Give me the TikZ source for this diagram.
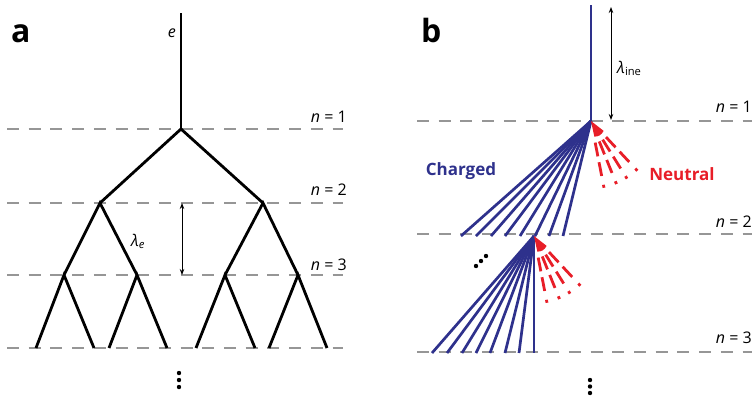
\documentclass[tikz,border=0pt]{standalone}
\usepackage{fontspec}
\setmainfont{Open Sans}
\usetikzlibrary{arrows.meta}
\definecolor{chblue}{RGB}{46,49,140}
\definecolor{ntred}{RGB}{232,30,40}
\definecolor{lvgray}{RGB}{150,150,150}
\tikzset{
  levelline/.style={draw=lvgray, line width=1.5pt, dash pattern=on 12pt off 9.7pt},
  branch/.style={line width=2.8pt, black, line join=miter},
  charged/.style={line width=2.7pt, chblue},
  neutral/.style={line width=2.8pt, ntred, dash pattern=on 14pt off 6pt on 14pt off 9pt on 3pt off 30pt},
  wedge/.style={fill=ntred},
  dimarrow/.style={line width=0.9pt, {Stealth[length=6pt,width=4.5pt]}-{Stealth[length=6pt,width=4.5pt]}},
  lbl/.style={font=\fontsize{16}{18}\selectfont, inner sep=0pt},
  panel/.style={font=\fontsize{32}{34}\selectfont\bfseries, inner sep=0pt},
  kind/.style={font=\fontsize{17}{19}\selectfont\bfseries, inner sep=0pt},
  dot/.style={fill=black},
}
\begin{document}
\begin{tikzpicture}[x=1pt,y=-1pt]
\useasboundingbox (0,0) rectangle (755,400);

% ---------------- panel a ----------------
\node[panel, anchor=base west] (la) at (11,42) {a};

% level lines
\coordinate (a1w) at (7,129);   \coordinate (a1e) at (343,129);
\coordinate (a2w) at (7,203);   \coordinate (a2e) at (343,203);
\coordinate (a3w) at (7,275);   \coordinate (a3e) at (343,275);
\coordinate (a4w) at (7,348);   \coordinate (a4e) at (343,348);
\draw[levelline] (a1w) -- (a1e);
\draw[levelline] (a2w) -- (a2e);
\draw[levelline] (a3w) -- (a3e);
\draw[levelline] (a4w) -- (a4e);

\node[lbl, anchor=base east] (an1) at (347,122) {\textit{n} = 1};
\node[lbl, anchor=base east] (an2) at (347,195) {\textit{n} = 2};
\node[lbl, anchor=base east] (an3) at (347,270) {\textit{n} = 3};

% tree
\coordinate (top) at (181,13);
\coordinate (r)   at (181,129);
\coordinate (l2a) at (100,203);
\coordinate (l2b) at (263,203);
\coordinate (l3a) at (64,275);
\coordinate (l3b) at (137,275);
\coordinate (l3c) at (225,275);
\coordinate (l3d) at (298,275);
\foreach \i/\x in {1/36,2/94,3/109,4/167,5/196,6/255,7/269,8/327}
  \coordinate (lf\i) at (\x,348);

\draw[branch] (top) -- (r);
\draw[branch] (l2a) -- (r) -- (l2b);
\draw[branch] (l3a) -- (l2a) -- (l3b);
\draw[branch] (l3c) -- (l2b) -- (l3d);
\draw[branch] (lf1) -- (l3a) -- (lf2);
\draw[branch] (lf3) -- (l3b) -- (lf4);
\draw[branch] (lf5) -- (l3c) -- (lf6);
\draw[branch] (lf7) -- (l3d) -- (lf8);

\node[lbl, anchor=base east] (elab) at (176,37) {\textit{e}};
\node[lbl, anchor=base west] (lame) at (131,246) {\textit{λ}\textsubscript{\textit{e}}};

\coordinate (arA1) at (182,203);
\coordinate (arA2) at (182,275);
\draw[dimarrow] (arA1) -- (arA2);

\fill[dot] (179,373) circle (2.2);
\fill[dot] (179,380) circle (2.2);
\fill[dot] (179,387) circle (2.2);

% ---------------- panel b ----------------
\node[panel, anchor=base west] (lb) at (421,42) {b};

\coordinate (b1w) at (417,121); \coordinate (b1e) at (752,121);
\coordinate (b2w) at (417,234); \coordinate (b2e) at (752,234);
\coordinate (b3w) at (417,352); \coordinate (b3e) at (752,352);
\draw[levelline] (b1w) -- (b1e);
\draw[levelline] (b2w) -- (b2e);
\draw[levelline] (b3w) -- (b3e);

\node[lbl, anchor=base east] (bn1) at (752,112) {\textit{n} = 1};
\node[lbl, anchor=base east] (bn2) at (752,227) {\textit{n} = 2};
\node[lbl, anchor=base east] (bn3) at (752,343) {\textit{n} = 3};

% incoming track
\coordinate (btop) at (591,5);
\coordinate (v1) at (591,121);
\draw[charged] (btop) -- (v1);

\coordinate (arB1) at (611,7);
\coordinate (arB2) at (611,120);
\draw[dimarrow] (arB1) -- (arB2);
\node[lbl, anchor=base west] (lamine) at (617,73) {\textit{λ}\textsubscript{ine}};

% first charged fan
\foreach \i/\x in {1/461,2/476,3/491,4/505,5/520,6/535,7/549,8/563}
  \coordinate (c\i) at (\x,236);
\foreach \i in {1,...,8}
  \draw[charged] (v1) -- (c\i);

% second vertex and fan
\coordinate (v2) at (534,236);
\foreach \i/\x in {1/432,2/447,3/462,4/476,5/490,6/505,7/519,8/534}
  \coordinate (d\i) at (\x,353);
\foreach \i in {1,...,8}
  \draw[charged] (v2) -- (d\i);

% neutral fans
\foreach \v in {v1,v2}{
  \fill[wedge, shift={(\v)}] (0,0) -- (38:16) -- (48:16.5) -- (58:16.8) -- (68:16.5) -- (78:16) -- cycle;
  \foreach \a in {47,58,68,79}
    \draw[neutral, shift={(\v)}] (\a:22) -- (\a:72);
}

\node[kind, text=chblue, anchor=base] (charged) at (461,175) {Charged};
\node[kind, text=ntred, anchor=base] (neutral) at (682,180) {Neutral};

% dots
\fill[dot] (476,266) circle (2.2);
\fill[dot] (481,261) circle (2.2);
\fill[dot] (486,256) circle (2.2);

\fill[dot] (590,380) circle (2.2);
\fill[dot] (590,386.5) circle (2.2);
\fill[dot] (590,393) circle (2.2);
\end{tikzpicture}
\end{document}
